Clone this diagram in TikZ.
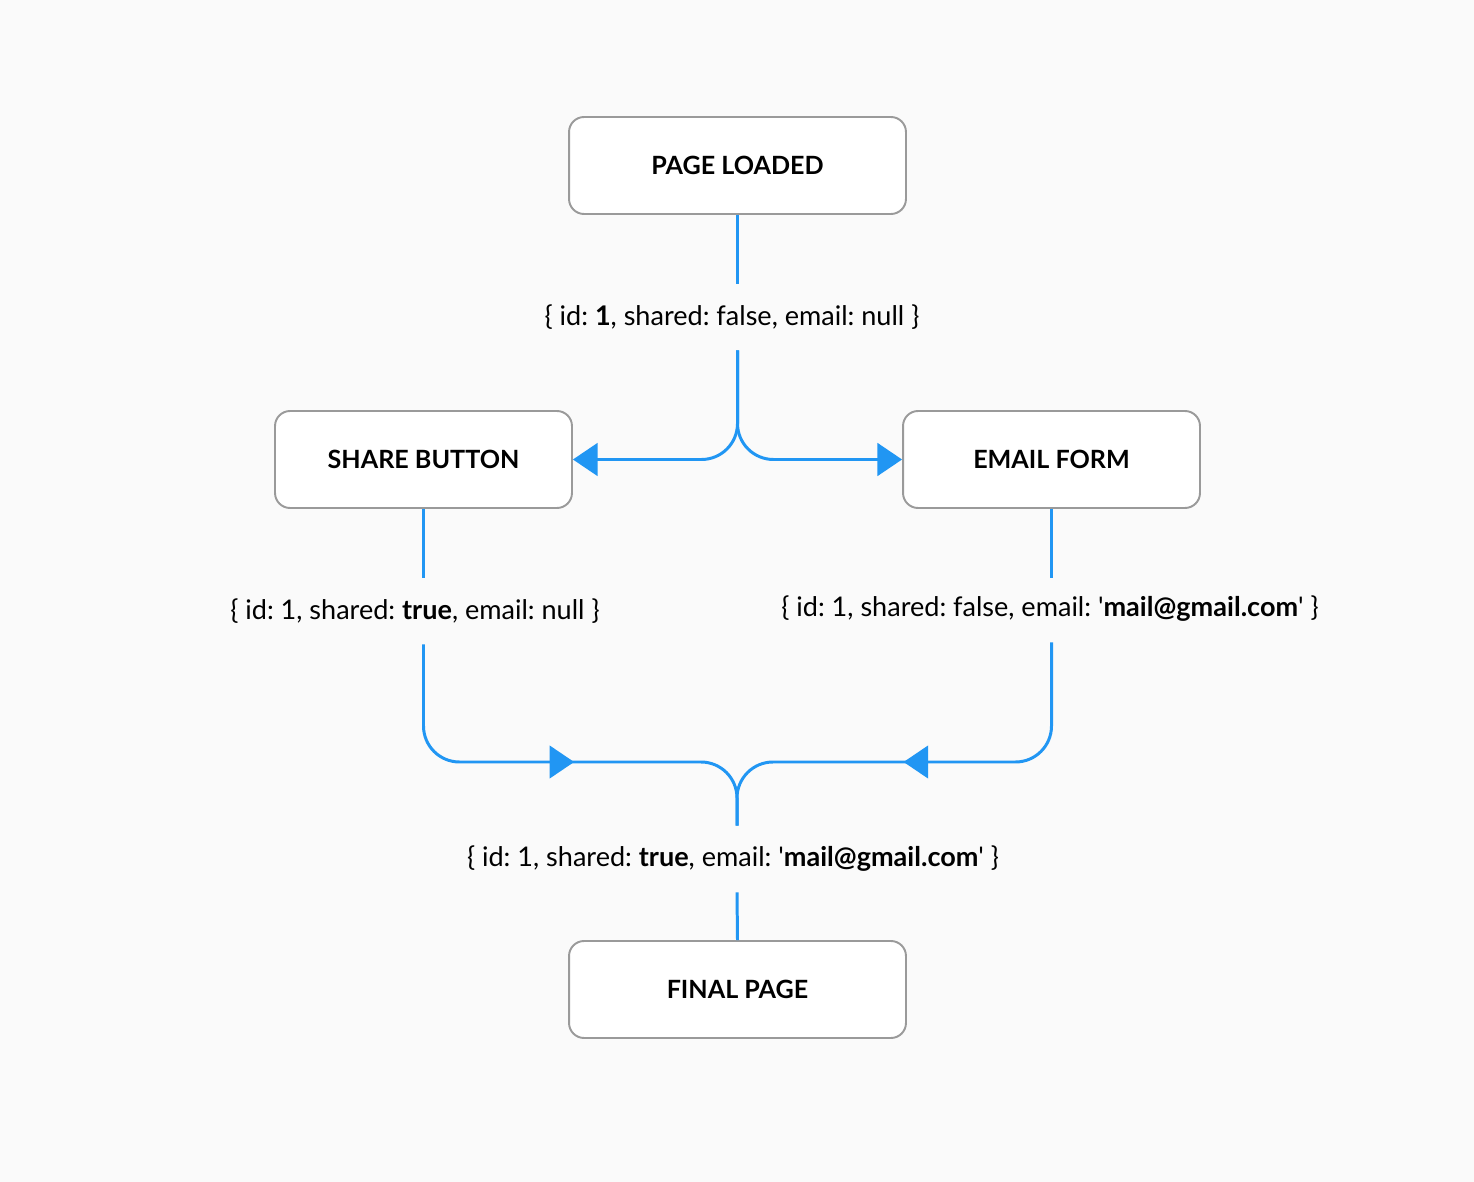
\documentclass[tikz,border=0pt]{standalone}
\usepackage{fontspec}
\setmainfont{Lato}
\usetikzlibrary{arrows.meta, decorations.markings}

\definecolor{flowblue}{HTML}{2196F3}
\definecolor{boxgray}{HTML}{9A9A9A}
\definecolor{paper}{HTML}{FAFAFA}

\newcommand{\sq}{\textquotesingle}

\tikzset{
  stagebox/.style={draw=boxgray, line width=1.1pt, fill=white, rounded corners=0.3cm,
    minimum width=6.74cm, minimum height=1.94cm, font=\fontsize{14.3}{17}\selectfont\bfseries},
  narrowbox/.style={stagebox, minimum width=5.94cm},
  statelbl/.style={inner sep=0pt, minimum height=1.32cm, font=\fontsize{15.4}{18}\selectfont\frenchspacing},
  flow/.style={draw=flowblue, line width=1.7pt, rounded corners=0.72cm},
  tip/.style={-{Triangle[length=14pt, width=18.5pt]}},
  midtip/.style={postaction={decorate}, decoration={markings,
    mark=at position #1 with {\arrow{Triangle[length=14pt, width=18.5pt]}}}}
}

\begin{document}
\begin{tikzpicture}[x=0.02cm, y=-0.02cm]
    \useasboundingbox[fill=paper] (0, 0) rectangle (1474, 1182);

    % stages
    \node[stagebox] (loaded) at (737.5, 165.5) {PAGE LOADED};
    \node[narrowbox] (share) at (423.5, 459.5) {SHARE BUTTON};
    \node[narrowbox] (email) at (1051.5, 459.5) {EMAIL FORM};
    \node[stagebox] (final) at (737.5, 989.5) {FINAL PAGE};

    % states passed along
    \node[statelbl] (s1) at (732, 317) {\{ id: \textbf{1}, shared: false, email: null \}};
    \node[statelbl] (s2) at (415, 611) {\{ id: 1, shared: \textbf{true}, email: null \}};
    \node[statelbl] (s3) at (1050, 609) {\{ id: 1, shared: false, email: \sq\textbf{mail@gmail.com}\sq\ \}};
    \node[statelbl] (s4) at (733, 859) {\{ id: 1, shared: \textbf{true}, email: \sq\textbf{mail@gmail.com}\sq\ \}};

    \coordinate (join) at (737, 762);

    % top split
    \draw[flow] (loaded.south) -- (loaded.south |- s1.north);
    \draw[flow, tip] (loaded.south |- s1.south) |- (share.east);
    \draw[flow, tip] (loaded.south |- s1.south) |- (email.west);

    % down from the two stages
    \draw[flow] (share.south) -- (share.south |- s2.north);
    \draw[flow] (email.south) -- (email.south |- s2.north);

    % merge
    \draw[flow, midtip=0.545] (share.south |- s2.south) |- (join) -- (join |- s4.north);
    \draw[flow, midtip=0.54] (email.south |- s3.south) |- (join) -- (join |- s4.north);

    \draw[flow] (join |- s4.south) -- (final.north);
\end{tikzpicture}
\end{document}
